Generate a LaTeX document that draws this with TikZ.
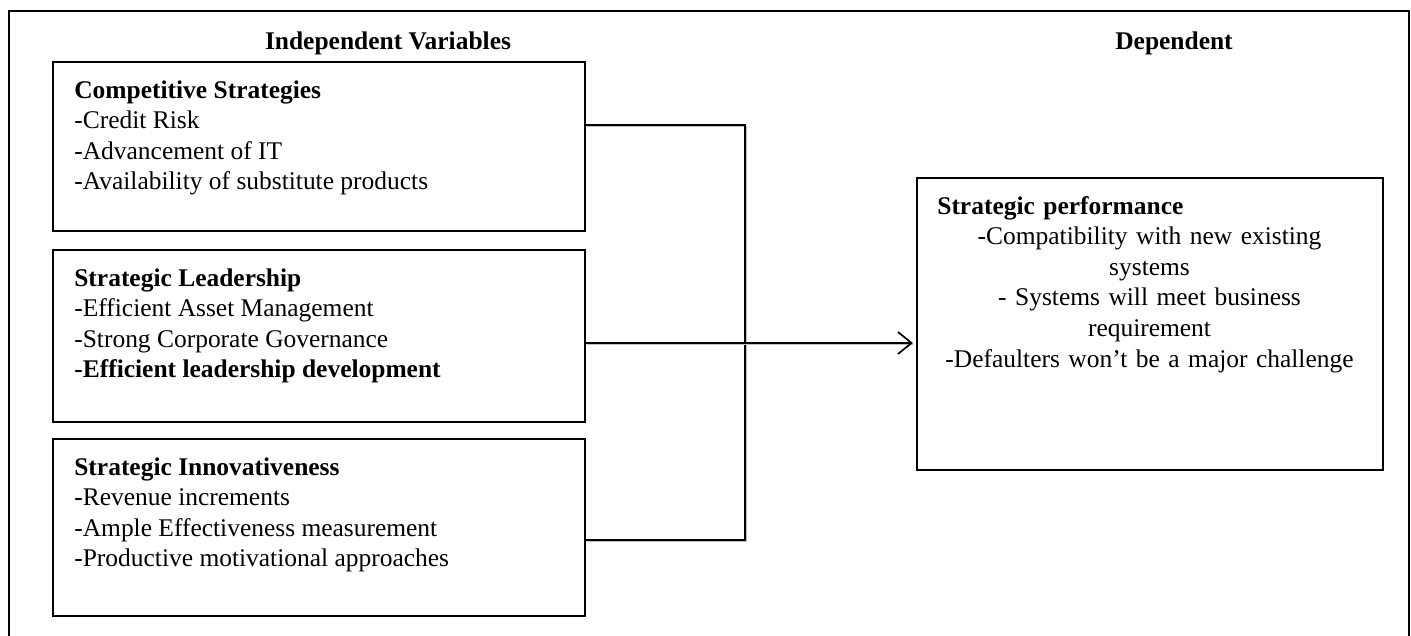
\documentclass[tikz,border=0pt]{standalone}
\usepackage{fontspec}
\setmainfont{Liberation Serif}
\usepackage{tikz}
\usetikzlibrary{arrows.meta,fit}

\tikzset{
  box/.style={draw, line width=0.9pt, inner sep=0pt},
  txt/.style={anchor=north west, inner sep=0pt, align=left,
    font=\fontsize{15pt}{18pt}\selectfont},
  head/.style={inner sep=0pt, font=\fontsize{15pt}{18pt}\selectfont\bfseries},
  link/.style={draw=black, line width=0.9pt,
    preaction={draw=gray!50, line width=1.1pt, transform canvas={xshift=0.8pt, yshift=-0.9pt}}},
}

\begin{document}
\begin{tikzpicture}[x=0.0207cm, y=-0.0207cm]
\useasboundingbox (0,0) rectangle (1411,635);
% outer frame, open at the bottom
\draw[line width=0.9pt] (9,640) -- (9,11) -- (1409,11) -- (1409,640);
%
\node[head] (hind) at (388,43) {Independent Variables};
\node[head] (hdep) at (1174,43) {Dependent};
%
\node[box, fit={(53,62) (585,231)}] (cs) {};
\node[txt] (cstxt) at (74,76.5) {\strut\textbf{Competitive Strategies}\\-Credit Risk\\-Advancement of IT\\-Availability of substitute products};
%
\node[box, fit={(53,250) (585,422)}] (sl) {};
\node[txt] (sltxt) at (74,264.5) {\strut\textbf{Strategic Leadership}\\-Efficient Asset Management\\-Strong Corporate Governance\\\textbf{-Efficient leadership development}};
%
\node[box, fit={(53,439) (585,616)}] (ci) {};
\node[txt] (citxt) at (74,453.5) {\strut\textbf{Strategic Innovativeness}\\\textbf{-}Revenue increments\\-Ample Effectiveness measurement\\-Productive motivational approaches};
%
\node[box, fit={(917,178) (1383,470)}] (sp) {};
\node[txt, text width=250pt, align=center] (sptxt) at (937,192.5) {\strut\textbf{Strategic performance}\hfill\null\\-Compatibility with new existing\\systems\\- Systems will meet business\\requirement\\-Defaulters won't be a major challenge};
%
\coordinate (j1) at (745,125);
\coordinate (j2) at (745,343);
\coordinate (j3) at (745,540);
\draw[link] (cs.east |- j1) -- (j1) -- (j3) -- (ci.east |- j3);
\draw[link] (sl.east |- j2) -- ([xshift=-3pt]sp.west |- j2);
\draw[line width=1pt, -{Straight Barb[length=8pt, width=13pt]}] ([xshift=-5pt]sp.west |- j2) -- ([xshift=-2pt]sp.west |- j2);
\end{tikzpicture}
\end{document}
